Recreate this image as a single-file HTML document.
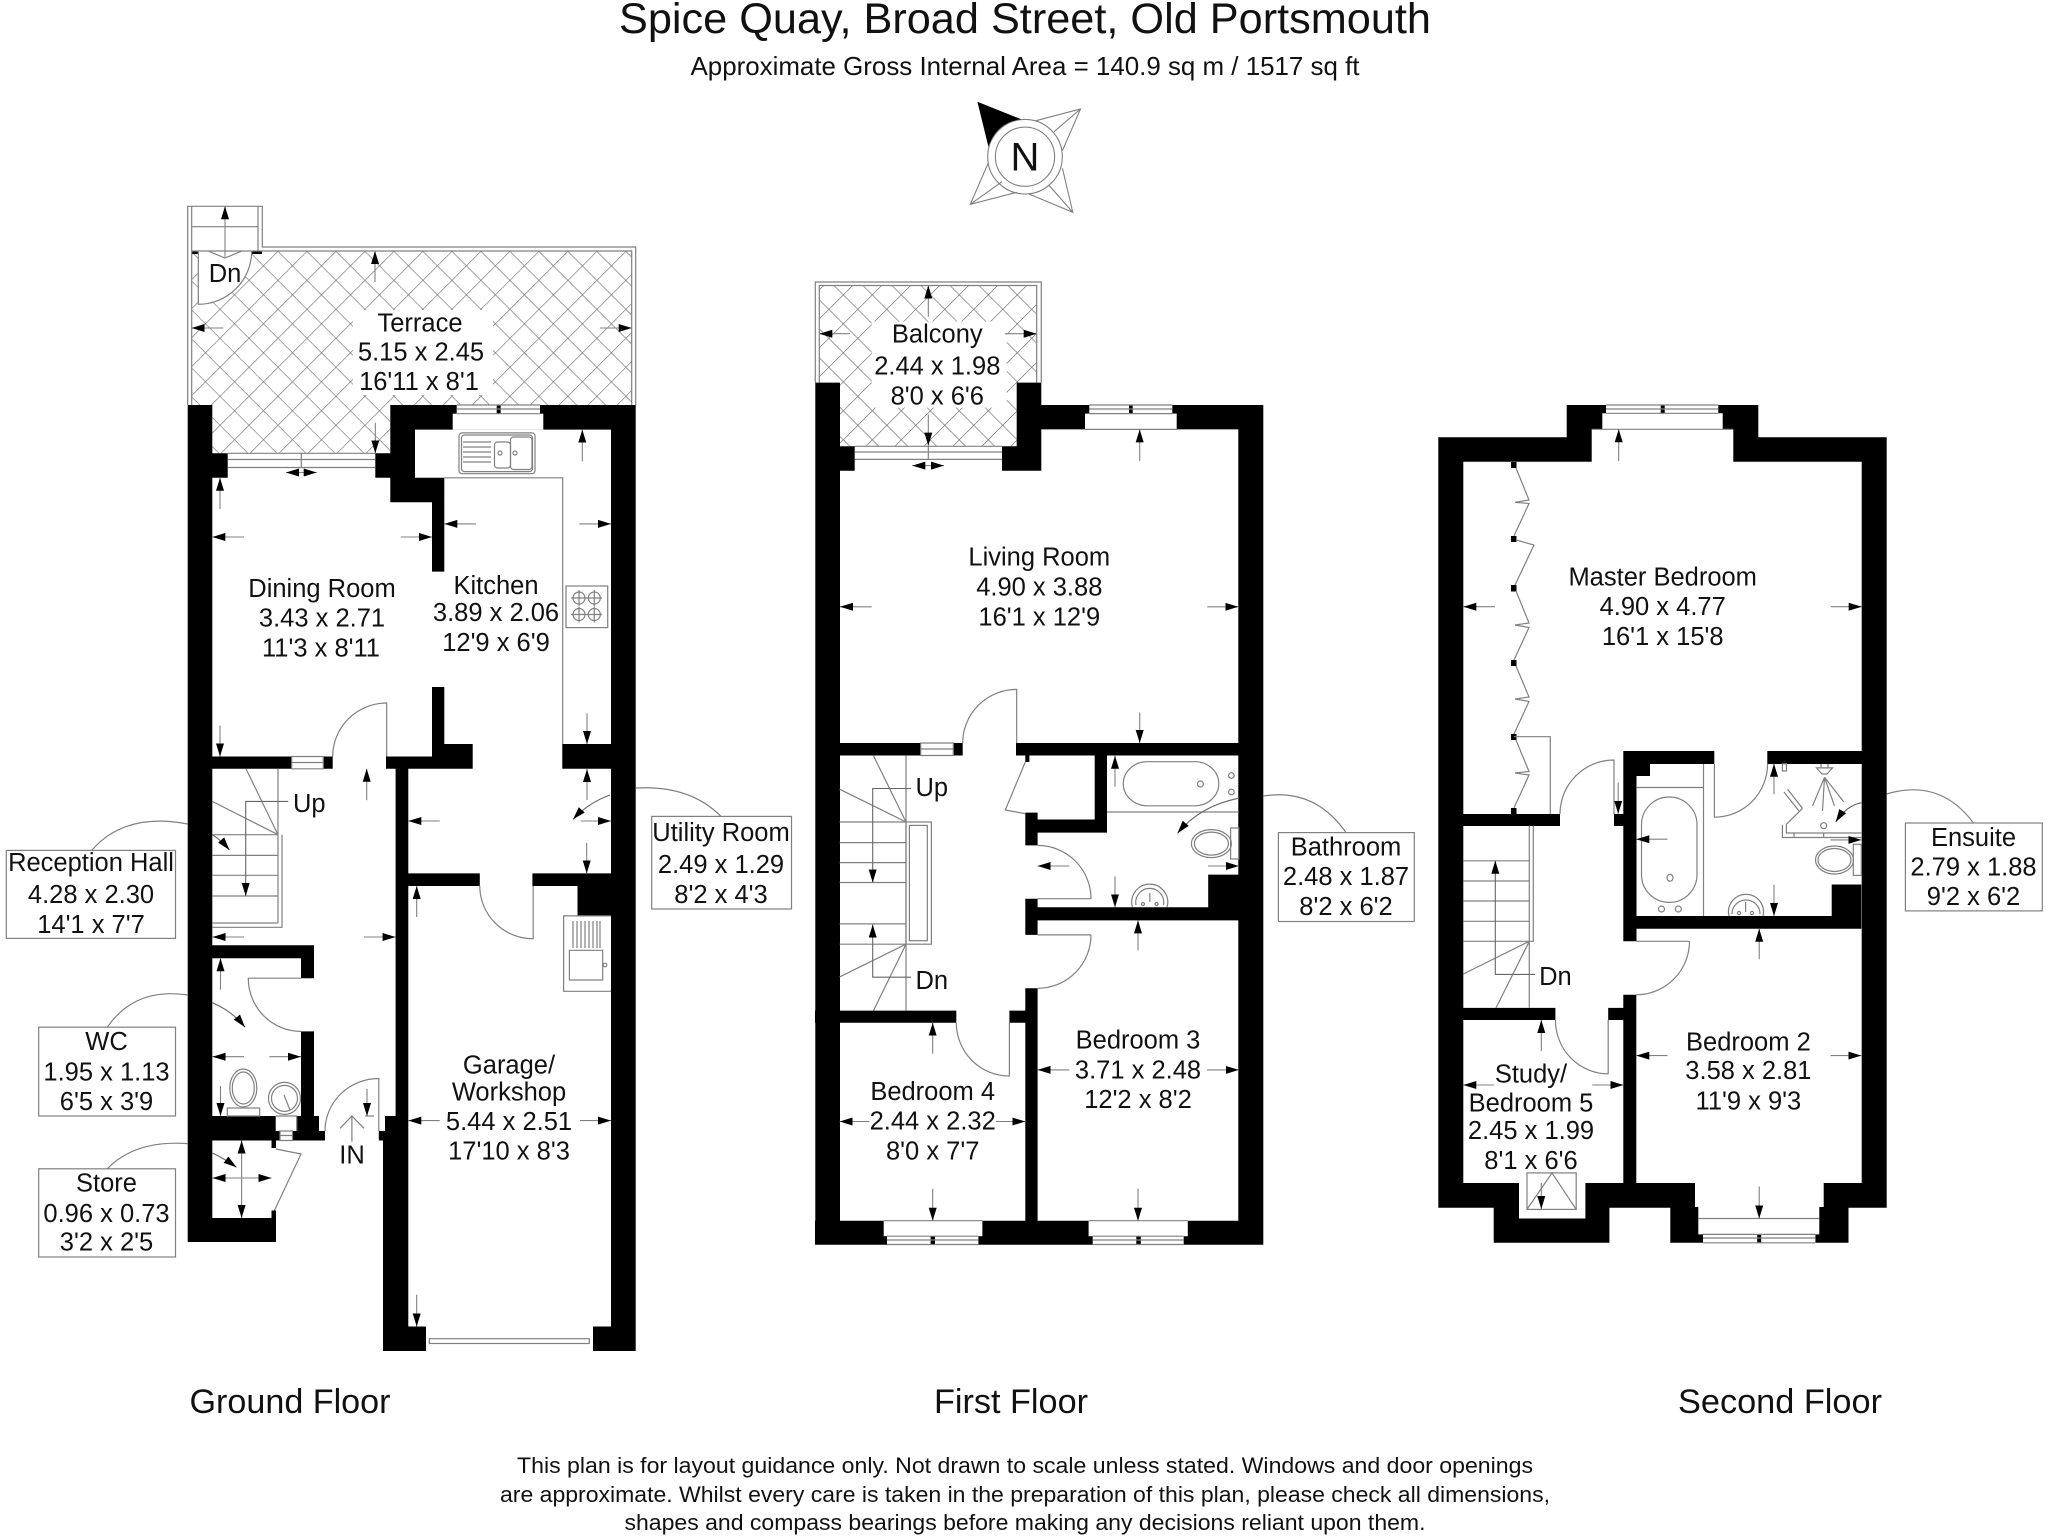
<!DOCTYPE html>
<html lang="en"><head><meta charset="utf-8"><title>Spice Quay floor plan</title>
<style>html,body{margin:0;padding:0;background:#fff}svg{display:block}text{font-family:"Liberation Sans",sans-serif;fill:#111}</style></head>
<body>
<svg xmlns="http://www.w3.org/2000/svg" width="2048" height="1538" viewBox="0 0 2048 1538">
<defs>
<pattern id="h" width="20.5" height="20.5" patternUnits="userSpaceOnUse" patternTransform="translate(191 251) rotate(45)">
<path d="M0 0H20.5M0 0V20.5" stroke="#555" stroke-width="1.1" fill="none"/></pattern>
<marker id="a" markerUnits="userSpaceOnUse" markerWidth="14" markerHeight="9" refX="13" refY="4.5" orient="auto"><path d="M0 .5L13 4.5L0 8.5z" fill="#000"/></marker>
</defs>
<rect width="2048" height="1538" fill="#fff"/>

<!-- hatch -->
<path d="M191.7 251H631.7V405H390.3V453.3H212.3V405H191.7z" fill="url(#h)"/>
<path d="M819.3 285.5H1036.7V382.6H1016.7V446.3H840V382.6H819.3z" fill="url(#h)"/>
<g fill="#fff">
<rect x="353" y="310" width="140" height="85"/>
<rect x="871.7" y="321.6" width="135" height="86"/>
<path d="M198.3 251H251.7Q246 300 198.3 304.3z"/>
</g>

<!-- walls -->
<path fill="#000" d="M187.7 405H212.3V1242H187.7zM212 453.3H227.7V477.8H212zM390.3 405H635.7V429.6H390.3zM611 405H635.7V1351H611zM390.3 405H415V477.8H390.3zM375.3 453.3H390.3V477.8H375.3zM390.3 477.8H444.3V502.2H390.3zM432 502H444.3V571.6H432zM432 687H444.3V744H432zM432 744H472.7V768.8H432zM386 756.5H432V768.8H386zM212 756.5H291.7V768.8H212zM323.3 756.5H332.7V768.8H323.3zM562.3 744H611V768.8H562.3zM395.6 768H408.3V1116H395.6zM385 1116H408.3V1131H385zM378.8 1131H408.3V1140.5H378.8zM383 1140H408.3V1351H383zM383 1326.5H426V1351H383zM593 1326.5H635.5V1351H593zM408 873.4H479.8V886H408zM532.4 873.4H611V886H532.4zM577.5 886H611V915.9H577.5zM212 945.3H314V958.3H212zM301 958H314V978.2H301zM301 1031.4H314V1116H301zM187.7 1116H275.7V1140.5H187.7zM275.7 1131H280V1140.5H275.7zM296.7 1116H319V1131H296.7zM292.5 1131H325V1140.5H292.5zM212 1218H276V1242H212zM271.5 1140H276V1148H271.5zM271.5 1210.5H276V1218H271.5z
M192 251H198V254H192zM252 251H262V254H252z
M815.3 382.6H840V1244.8H815.3zM1016.7 382.6H1041.3V470.8H1016.7zM1002 446.3H1016.7V470.8H1002zM840 446.3H854.7V470.8H840zM1041.3 405H1263.3V429.4H1041.3zM1238.3 405H1263.3V1244.8H1238.3zM840 743H920.7V755.5H840zM953.3 743H962.7V755.5H953.3zM1016 743H1238.3V755.5H1016zM1094.7 755H1107V832.6H1094.7zM1025.3 819.5H1107V832.6H1025.3zM1025.3 812.6H1037.6V845.4H1025.3zM1025.3 898.7H1037.6V934.9H1025.3zM1037 907.3H1238.8V920.4H1037zM1208.2 874.6H1238.8V907.3H1208.2zM1025.3 988.3H1037.6V1221H1025.3zM1009.4 1010.6H1037.6V1022.7H1009.4zM815 1010.6H956.3V1022.7H815zM815 1220.7H1263.3V1244.8H815zM1025.3 755.5H1029.4V762H1025.3z
M1438.3 437.3H1463.3V1207.7H1438.3zM1438.3 437.3H1591.7V461.7H1438.3zM1566.7 405H1591.7V437.3H1566.7zM1566.7 405H1606V413.3H1566.7zM1566.7 413H1602.3V429.3H1566.7zM1718.3 405H1758.3V413.3H1718.3zM1722.7 413H1758.3V429.3H1722.7zM1733.3 429H1758.3V461.7H1733.3zM1733.3 437.3H1886.7V461.7H1733.3zM1861.7 437.3H1886.7V1207.7H1861.7zM1438.3 814H1560V826H1438.3zM1623.3 751H1714.3V764H1623.3zM1623.3 751H1636.5V941.3H1623.3zM1636 764H1650V776H1636zM1636 916H1861.3V928.8H1636zM1831.7 884.5H1861.3V916H1831.7zM1767.3 751H1861.7V764H1767.3zM1614 814H1623.3V826H1614zM1623.3 994.7H1636.3V1183H1623.3zM1608.2 1007.9H1636.3V1020H1608.2zM1438.8 1007.9H1555.4V1020H1438.8zM1438.8 1183H1695V1207.7H1438.8zM1493.7 1207.7H1609.4V1242.8H1493.7zM1670.3 1207H1698.3V1242.8H1670.3zM1670.3 1234.4H1703V1242.8H1670.3zM1819.3 1207H1848.5V1242.8H1819.3zM1815.3 1234.4H1848.5V1242.8H1815.3zM1823.7 1183H1886.5V1207.7H1823.7z"/>

<g fill="#fff">
<rect x="1519" y="1183" width="66.4" height="35.5"/>
<rect x="452.7" y="413.7" width="90.6" height="15.9"/><rect x="456.7" y="405" width="83.3" height="9"/>
<rect x="1085" y="413.6" width="91.7" height="15.8"/><rect x="1089.3" y="405" width="83" height="9"/>
<rect x="883.7" y="1220.7" width="98.7" height="15.5"/><rect x="887" y="1236" width="91.4" height="8.8"/>
<rect x="1088.6" y="1220.7" width="99.2" height="15.5"/><rect x="1092.7" y="1236" width="91" height="8.8"/>
<rect x="1703" y="1234" width="112.3" height="9"/>
</g>
<!-- mullions -->
<path fill="#000" d="M496.7 405H500.7V414H496.7zM1129 405H1132.7V414H1129zM930.6 1236H935V1244.8H930.6zM1136.3 1236H1140.8V1244.8H1136.3zM1660.7 405H1664.7V413.3H1660.7zM1757.2 1234.4H1761.2V1242.8H1757.2z
M1511 462H1516.5V468H1511zM1511 536H1516.5V542H1511zM1511 585H1516.5V591.5H1511zM1511 660H1516.5V666H1511zM1511 734H1516.5V740H1511zM1511 808H1516.5V814H1511z"/>

<!-- fine lines -->
<g fill="none" stroke="#808080" stroke-width="1.2">
<path d="M187.7 405V206.3H262.3V247H635.7V405M191.7 405V251H631.7V405M191.7 251V206.3M258 206.3V251M191.7 226.7H258"/>
<path d="M198.3 251V304.3A53.4 53.4 0 0 0 251.7 251M208 251L225 258L242 251"/>
<path d="M456.7 405H540M456.7 409H540M456.7 413.7H540"/>
<path d="M227.7 453.3H375.3M227.7 459.5H375.3M227.7 467.5H375.3M301.3 453.3V467.5"/>
<path d="M444.3 477.8H562.7V744"/>
<rect x="459" y="432.9" width="76" height="40.8" rx="3"/><rect x="461.5" y="435" width="71" height="36.6" rx="3"/>
<path d="M463 442H491M463 447H491M463 452H491M463 457H491M463 462H491"/>
<rect x="494.5" y="442" width="16" height="26" rx="3"/><rect x="510.5" y="437" width="21.5" height="32.5" rx="3"/>
<circle cx="500" cy="453" r="2"/><circle cx="515" cy="453" r="2"/>
<rect x="566" y="586" width="41.7" height="41.6"/>
<circle cx="579" cy="598" r="6"/><circle cx="594.3" cy="598" r="6"/><circle cx="579" cy="614.5" r="6"/><circle cx="594.3" cy="614.5" r="6"/>
<path d="M571 598H587M579 590V606M586 598H602M594.3 590V606M571 614.5H587M579 606.5V622.5M586 614.5H602M594.3 606.5V622.5"/>
<path d="M291.7 756.5H323.3V768.8H291.7zM291.7 762.5H323.3"/>
<path d="M386.7 756.5V703A54 53.5 0 0 0 332.7 756.5"/>
<path d="M479.8 886A53.4 52.8 0 0 0 533.2 938.8V886"/>
<path d="M301 978.2H248.3A52.7 53.2 0 0 0 301 1031.4"/>
<path d="M378.8 1131V1078.5A53.8 52.5 0 0 0 325 1131"/>
<path d="M276 1149L301 1154L274.4 1210.5"/>
<path d="M280 1131H292.5V1140.5H280zM280 1135.5H292.5M276 1116H296.7V1131"/>
<path d="M212.5 834.7H278M212.5 855.4H278M212.5 875.3H278M212.5 896H278M212.5 923H278M278 768.8V923M282 834.7V927.3H212.5M278 834.7L212.3 801.4M278 834.7L246 768.8"/>
<path d="M611 915.9H563.6V991.3H611M569.4 950.3H602.7V980H569.4zM573 921V948M577 921V948M581 921V948M585 921V948M589 921V948M593 921V948M597 921V948M600 921V948"/>
<circle cx="605" cy="965" r="1.8"/>
<rect x="429.3" y="1338.7" width="160" height="4.8"/>
<ellipse cx="243.3" cy="1088" rx="13.5" ry="19"/><ellipse cx="243.3" cy="1088" rx="11" ry="16"/>
<rect x="227.3" y="1108" width="32.4" height="8" fill="#fff"/>
<circle cx="284.5" cy="1098.4" r="16"/><circle cx="284.5" cy="1098.4" r="13"/><path d="M284 1095L290 1110"/>
<path d="M340 1128.3L351.9 1116L364 1128.3M351.9 1116V1141.7"/>
<path d="M365 1116H374"/>
<rect x="6.3" y="850.4" width="169.2" height="88"/>
<rect x="38.7" y="1027.2" width="136.8" height="88.8"/>
<rect x="38.7" y="1168.8" width="136.8" height="88.2"/>
<rect x="651.7" y="816.4" width="139.8" height="92.6"/>
<rect x="1278.4" y="832.6" width="135.9" height="88.9"/>
<rect x="1905.4" y="823" width="136.9" height="87.9"/>
<path d="M91.7 850.4Q125 812 187.7 824M107.3 1027.2Q135 987 187.7 995M107.3 1168.8Q135 1140 187.7 1143.6M721 816.4Q690 785 636 788M1346 832.6Q1315 788 1263.3 796M1973.5 823Q1940 778 1886.6 794"/>
<path d="M815.3 382.6V282H1041.3V382.6M819.3 382.6V285.5H1036.7V382.6"/>
<path d="M854.7 446.3H1002M854.7 452H1002M854.7 459.4H1002M928.3 446V459.4"/>
<path d="M1089.3 405H1172.3M1089.3 409H1172.3M1089.3 413.6H1172.3M1085 429.4H1176.7"/>
<path d="M920.7 743H953.3V755.5H920.7zM920.7 749H953.3"/>
<path d="M883.7 1220.7H982.4M887 1236.2H978.4M887 1240H978.4M887 1244.5H978.4M1088.6 1220.7H1187.8M1092.7 1236.2H1183.7M1092.7 1240H1183.7M1092.7 1244.5H1183.7"/>
<path d="M1016.7 743V689.4A54 53.6 0 0 0 962.7 743"/>
<path d="M1025.3 762L1005.3 810L1025.3 813.7"/>
<path d="M1037.6 845.4A53.4 53.3 0 0 1 1091 898.7H1037.6"/>
<path d="M1091 934.9H1037.6M1091 934.9A53.4 53.4 0 0 1 1037.6 988.3"/>
<path d="M956.3 1022.7A53 53.3 0 0 0 1009.4 1076V1022.7"/>
<rect x="1123.3" y="761.7" width="95.5" height="44.1" rx="24" ry="22"/>
<circle cx="1200.4" cy="784" r="3"/><circle cx="1231.4" cy="775.5" r="2.8"/><circle cx="1231.4" cy="792" r="2.8"/>
<path d="M1107 812H1238.8"/>
<ellipse cx="1211.4" cy="843.6" rx="20" ry="14"/><ellipse cx="1211.4" cy="843.6" rx="17" ry="11.5"/>
<rect x="1230.6" y="828" width="8.2" height="31"/>
<path d="M1132.5 907.3A18 18 0 1 1 1167 907.3"/><path d="M1136 905A14 14 0 1 1 1163.5 905"/>
<path d="M1149.8 893V902"/><circle cx="1143" cy="904" r="1.5"/><circle cx="1156.5" cy="904" r="1.5"/>
<path d="M839.6 822H906M839.6 842.6H906M839.6 862.6H906M839.6 882.5H906M839.6 923.9H906M839.6 944.2H906M906 755.8V1010.6M906 822L873.5 755.8M906 822L839.6 789.2M906 944.2L839.6 976.9M906 944.2L873.5 1010.6"/>
<rect x="906" y="822" width="25.4" height="122.2"/><rect x="909.4" y="825.4" width="17.9" height="115.3"/>
<path d="M1606 405H1718.3M1606 409H1718.3M1606 413.3H1718.3M1591.7 429.3H1733.3"/>
<path d="M1516 468L1529 500L1515 502.3L1529 503.5L1514 536M1516 540L1534 545L1515 585M1516 591L1529 623L1515 625L1529 627.5L1514 660M1516 666L1529 697L1515 699L1529 701.5L1514 734M1516 740L1529 771.5L1515 773L1529 775L1514 808"/>
<path d="M1513.7 736.7H1550.3V814"/>
<path d="M1614 814V760A54 54 0 0 0 1560 814"/>
<path d="M1703.5 764V916M1636.3 787.5H1703.5"/>
<rect x="1641.5" y="797" width="55.5" height="105.4" rx="27.7"/>
<ellipse cx="1670" cy="877.7" rx="3" ry="3.5"/><circle cx="1661.5" cy="909" r="3"/><circle cx="1678.3" cy="909" r="3"/>
<path d="M1714.4 764V817.2A53.2 53.4 0 0 0 1767.6 763.8"/>
<path d="M1782.4 763.8H1786.4V771H1782.4zM1816.5 767.9H1832.5L1827 774H1822zM1821 764V768M1828 764V768"/>
<path d="M1824.5 777.3L1812.5 806M1824.5 777.3L1822.5 811M1824.5 777.3L1834.5 806M1824.5 777.3L1843.7 801.7"/>
<path d="M1787.6 789.2L1802.5 808.4M1784 792L1799 811"/>
<path d="M1802.5 808.4L1786 824.7"/>
<path d="M1782.4 824.7V837.5H1861.3M1786.4 824.7V833H1861.3M1794 833V837.5M1823.7 833V837.5"/>
<circle cx="1823.7" cy="825.7" r="3"/>
<ellipse cx="1834.5" cy="860" rx="19" ry="14"/><ellipse cx="1834.5" cy="860" rx="16.5" ry="11.5"/>
<rect x="1853.3" y="844.3" width="8" height="31.1"/>
<path d="M1729 916A17.5 17.5 0 1 1 1763 916"/><path d="M1732 914A14 14 0 1 1 1760 914"/><path d="M1745.6 902V912"/><circle cx="1739" cy="913" r="1.6"/><circle cx="1752" cy="913" r="1.6"/>
<path d="M1463.3 860.8H1529.3M1463.3 881H1529.3M1463.3 901H1529.3M1463.3 921.3H1529.3M1463.3 941.3H1529.3M1529.3 825.7V1007.9M1533.3 825.7V941.3H1529.3M1529.3 941.3L1463.3 974M1529.3 941.3L1496 1007.9"/>
<path d="M1555.4 1020A52.8 53.8 0 0 0 1608.2 1073.8V1020"/>
<path d="M1689.5 941.3H1636.3M1689.5 941.3A53.2 53.4 0 0 1 1636.3 994.7"/>
<rect x="1527" y="1172.9" width="49.2" height="36.5" fill="#fff"/>
<path d="M1527 1209.4L1552 1172.9L1576.2 1209.4"/>
<path d="M1698.3 1218.5H1819.3M1703 1234.4H1815.3M1703 1238H1815.3M1703 1242.8H1815.3"/>
</g>

<!-- stair arrow leaders -->
<g fill="none" stroke="#666" stroke-width="1.1" marker-end="url(#a)">
<path d="M288.3 801.4H245.7V896"/>
<path d="M911 788.5H872.7V882.5"/>
<path d="M911 977.2H872.7V924.6"/>
<path d="M1535 974.4H1495.3V860.8"/>
<path d="M212.5 834.7Q222 841 229.4 850"/>
<path d="M212.5 1002.7Q232 1011 245 1027.2"/>
<path d="M212.5 1153Q225 1159 236.5 1167.3"/>
<path d="M610 795Q588 803 573 819.4"/>
<path d="M1238.8 798.2Q1200 806 1177.5 833.3"/>
<path d="M1861.3 802.7Q1846 806 1835.7 822"/>
</g>
<!-- dimension arrows -->
<g fill="none" stroke="#808080" stroke-width="1.1" marker-end="url(#a)">
<path d="M225 257V206.3"/>
<path d="M375 282V251"/><path d="M223.3 328H191.7"/><path d="M600 328H631.7"/><path d="M375.3 422.7V453.3"/>
<path d="M220 509V477.8"/><path d="M244 537H212.3"/><path d="M400.7 537H432"/><path d="M220 725.5V756.5"/>
<path d="M582.3 461.4V429.6"/><path d="M476 523.9H444.3"/><path d="M579.3 523.9H611"/><path d="M587 713.3V744"/>
<path d="M301.3 472.5H286"/><path d="M301.3 472.5H316.7"/>
<path d="M366.7 800.2V768.8"/><path d="M244 937H212.5"/><path d="M364 937H395.6"/><path d="M367 1089V1116"/>
<path d="M587 800V769"/><path d="M580.8 821H611"/><path d="M586.7 843V873.4"/><path d="M439.8 821H408.3"/>
<path d="M416.7 917V886"/><path d="M439.8 1120.6H408.3"/><path d="M580 1120.6H611"/><path d="M416.7 1294.7V1326.5"/>
<path d="M220.5 989.7V958.3"/><path d="M244 1056.7H212.5"/><path d="M269.4 1056.7H301"/><path d="M220.5 1086V1116"/>
<path d="M241.6 1180V1140.5"/><path d="M241.6 1180V1218"/><path d="M241.6 1178H212.5"/><path d="M241.6 1178H271.5"/>
<path d="M928.3 316.5V285.5"/><path d="M850 333.7H819.3"/><path d="M1005 333.7H1036.7"/><path d="M928.3 414.6V445.6"/>
<path d="M928.3 465.6H912.3"/><path d="M928.3 465.6H944"/>
<path d="M1139.7 461V429.4"/><path d="M871.7 606.8H840"/><path d="M1207.3 606.8H1238.3"/><path d="M1139.7 712.5V743"/>
<path d="M1115 786.8V755.8"/><path d="M1069.4 866H1037.6"/><path d="M1208 866H1238.8"/><path d="M1115 876.3V907.3"/>
<path d="M1138 950.4V920.4"/><path d="M1069.4 1069.9H1037.6"/><path d="M1207 1069.9H1238.8"/><path d="M1138 1188.7V1220.7"/>
<path d="M932.7 1053.7V1022.7"/><path d="M869.4 1121.5H839.6"/><path d="M996 1121.5H1025.3"/><path d="M932.7 1188.7V1220.7"/>
<path d="M1618.7 461V429.3"/><path d="M1495 606.7H1463.3"/><path d="M1830.7 606.7H1861.7"/>
<path d="M1618.2 782.4V813.8"/><path d="M1667.5 839.2H1636.3"/><path d="M1774 794.2V763.8"/><path d="M1774 884.8V916"/><path d="M1830.5 839.9H1861.3"/>
<path d="M1541.3 1051V1020"/><path d="M1494 1085H1463.3"/><path d="M1592.2 1085H1623.4"/><path d="M1541.3 1183V1209"/>
<path d="M1759.2 959.2V928.8"/><path d="M1667.5 1055.6H1636.3"/><path d="M1830.5 1055.6H1861.3"/><path d="M1759.2 1186.4V1218.5"/>
</g>

<!-- compass -->
<g fill="none" stroke="#808080" stroke-width="1.1">
<path d="M1036 120.7L1080.5 109L1062.4 150.7M1080.5 109L1054 131.7"/>
<path d="M1062.4 168.3L1072.8 212.3L1029 194M1072.8 212.3L1048.7 185"/>
<path d="M988.4 162.7L970.3 204.3L1017 192.3M970.3 204.3L1002 181.7"/>
<circle cx="1025" cy="156.7" r="37.3"/><circle cx="1025" cy="156.7" r="29.6"/>
</g>
<path d="M977.4 101.7L1021.3 119.3Q997 122 988.4 146.7z" fill="#000"/>
<text x="1025" y="170.7" font-size="40" text-anchor="middle">N</text>

<!-- title -->
<text x="1025" y="33" font-size="42.6" text-anchor="middle" textLength="812" lengthAdjust="spacingAndGlyphs">Spice Quay, Broad Street, Old Portsmouth</text>
<text x="1025" y="75" font-size="26" text-anchor="middle" textLength="669" lengthAdjust="spacingAndGlyphs">Approximate Gross Internal Area = 140.9 sq m / 1517 sq ft</text>

<!-- room labels -->
<g font-size="25.5" text-anchor="middle">
<text x="420" y="331.6">Terrace</text><text x="421" y="360.6">5.15 x 2.45</text><text x="419" y="390">16'11 x 8'1</text>
<text x="225" y="282">Dn</text>
<text x="322" y="597">Dining Room</text><text x="322" y="626.7">3.43 x 2.71</text><text x="321" y="656.6">11'3 x 8'11</text>
<text x="496" y="594">Kitchen</text><text x="496" y="621">3.89 x 2.06</text><text x="496" y="651">12'9 x 6'9</text>
<text x="309.3" y="812">Up</text>
<text x="91" y="871">Reception Hall</text><text x="91" y="903">4.28 x 2.30</text><text x="91" y="933">14'1 x 7'7</text>
<text x="106.5" y="1050">WC</text><text x="106.5" y="1080.4">1.95 x 1.13</text><text x="106.5" y="1110">6'5 x 3'9</text>
<text x="106.5" y="1191.4">Store</text><text x="106.5" y="1222">0.96 x 0.73</text><text x="106.5" y="1250.7">3'2 x 2'5</text>
<text x="721" y="841">Utility Room</text><text x="721" y="873">2.49 x 1.29</text><text x="721" y="903">8'2 x 4'3</text>
<text x="352" y="1163.5">IN</text>
<text x="509" y="1073.5">Garage/</text><text x="509" y="1100.7">Workshop</text><text x="509" y="1130">5.44 x 2.51</text><text x="509" y="1159.6">17'10 x 8'3</text>

<text x="937.3" y="342.3">Balcony</text><text x="937.3" y="374.3">2.44 x 1.98</text><text x="937.3" y="404.3">8'0 x 6'6</text>
<text x="1039.3" y="565.5">Living Room</text><text x="1039.3" y="595.4">4.90 x 3.88</text><text x="1039.3" y="625.4">16'1 x 12'9</text>
<text x="931.8" y="796">Up</text><text x="931.8" y="989">Dn</text>
<text x="1346" y="855.7">Bathroom</text><text x="1346" y="885">2.48 x 1.87</text><text x="1346" y="915">8'2 x 6'2</text>
<text x="1138" y="1048.5">Bedroom 3</text><text x="1138" y="1078.5">3.71 x 2.48</text><text x="1138" y="1108">12'2 x 8'2</text>
<text x="932.7" y="1100">Bedroom 4</text><text x="932.7" y="1129.5">2.44 x 2.32</text><text x="932.7" y="1159.7">8'0 x 7'7</text>

<text x="1662.7" y="585.7">Master Bedroom</text><text x="1662.7" y="615">4.90 x 4.77</text><text x="1662.7" y="645">16'1 x 15'8</text>
<text x="1555.4" y="985.2">Dn</text>
<text x="1973.5" y="846">Ensuite</text><text x="1973.5" y="875.4">2.79 x 1.88</text><text x="1973.5" y="904.8">9'2 x 6'2</text>
<text x="1748.4" y="1050.5">Bedroom 2</text><text x="1748.4" y="1079.2">3.58 x 2.81</text><text x="1748.4" y="1109.3">11'9 x 9'3</text>
<text x="1531" y="1082.6">Study/</text><text x="1531" y="1111.3">Bedroom 5</text><text x="1531" y="1139">2.45 x 1.99</text><text x="1531" y="1168.8">8'1 x 6'6</text>
</g>

<!-- floors -->
<g font-size="34" text-anchor="middle">
<text x="290" y="1413" textLength="201" lengthAdjust="spacingAndGlyphs">Ground Floor</text>
<text x="1011" y="1413" textLength="154" lengthAdjust="spacingAndGlyphs">First Floor</text>
<text x="1780" y="1413" textLength="204" lengthAdjust="spacingAndGlyphs">Second Floor</text>
</g>
<!-- footer -->
<g font-size="22.5" text-anchor="middle">
<text x="1025" y="1473" textLength="1016" lengthAdjust="spacingAndGlyphs">This plan is for layout guidance only. Not drawn to scale unless stated. Windows and door openings</text>
<text x="1025" y="1502" textLength="1050" lengthAdjust="spacingAndGlyphs">are approximate. Whilst every care is taken in the preparation of this plan, please check all dimensions,</text>
<text x="1025" y="1530" textLength="801" lengthAdjust="spacingAndGlyphs">shapes and compass bearings before making any decisions reliant upon them.</text>
</g>
</svg>
</body></html>
